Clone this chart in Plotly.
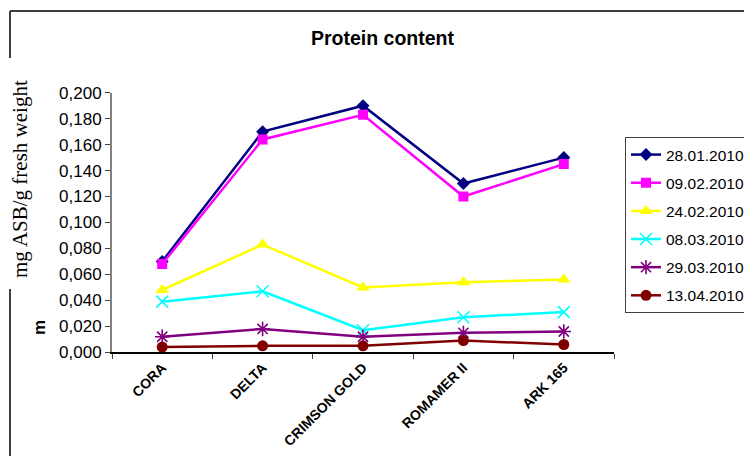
import plotly.graph_objects as go

categories = ["CORA", "DELTA", "CRIMSON GOLD", "ROMAMER II", "ARK 165"]
dates = ["28.01.2010", "09.02.2010", "24.02.2010", "08.03.2010", "29.03.2010", "13.04.2010"]
s_28_01 = [0.070, 0.170, 0.190, 0.130, 0.150]
s_09_02 = [0.068, 0.164, 0.183, 0.120, 0.145]
s_24_02 = [0.048, 0.083, 0.050, 0.054, 0.056]
s_08_03 = [0.039, 0.047, 0.017, 0.027, 0.031]
s_29_03 = [0.012, 0.018, 0.012, 0.015, 0.016]
s_13_04 = [0.004, 0.005, 0.005, 0.009, 0.006]
y_ticks = [0.000, 0.020, 0.040, 0.060, 0.080, 0.100, 0.120, 0.140, 0.160, 0.180, 0.200]

series = [s_28_01, s_09_02, s_24_02, s_08_03, s_29_03, s_13_04]
colors = ["#000080", "#FF00FF", "#FFFF00", "#00FFFF", "#800080", "#800000"]
symbols = ["diamond", "square", "triangle-up", "x-thin-open", "asterisk-open", "circle"]
sizes = [10, 10, 12, 12, 12, 11]

# figure is a little wider than the window; the frame runs off the right edge as in the original
W, H = 770, 456
fig = go.Figure()
for name, vals, c, s, sz in zip(dates, series, colors, symbols, sizes):
    marker = dict(symbol=s, size=sz, color=c)
    if s.endswith("open"):
        marker["line"] = dict(color=c, width=1.6)
    fig.add_trace(go.Scatter(x=categories, y=vals, name=name, mode="lines+markers",
                             legendgroup=name,
                             line=dict(color=c, width=2.5), marker=marker))

def px(x):
    return x / W

def py(y):
    return 1 - y / H

fig.update_layout(
    template="none",
    width=W, height=H,
    margin=dict(l=0, r=0, t=0, b=0, pad=0),
    paper_bgcolor="white", plot_bgcolor="white",
    separators=",.",
    font=dict(family="Liberation Sans, Arial, sans-serif", color="black"),
    showlegend=True,
    legend=dict(x=px(625), y=py(137), xanchor="left", yanchor="top",
                bordercolor="#404040", borderwidth=1, bgcolor="white",
                traceorder="grouped", tracegroupgap=5,
                font=dict(size=15.5, color="black")),
    xaxis=dict(domain=[px(112), px(614)], type="category", range=[-0.5, 4.5],
               automargin=False,
               showline=True, linecolor="black", linewidth=1.5,
               ticks="outside", tickson="boundaries", ticklen=5, tickcolor="#404040", tickwidth=1,
               tickangle=-45,
               tickfont=dict(size=14, family="Liberation Sans, Arial", color="black", weight="bold"),
               showgrid=False, zeroline=False),
    yaxis=dict(domain=[py(352.3), py(92.7)], range=[0, 0.2],
               automargin=False,
               tickvals=y_ticks, tickformat=".3f",
               showline=True, linecolor="#808080", linewidth=2,
               ticks="outside", ticklen=5, tickcolor="#404040", tickwidth=1,
               tickfont=dict(size=17, color="black"),
               showgrid=False, zeroline=False),
)

# title
fig.add_annotation(text="<b>Protein content</b>", x=px(383), y=py(38), xref="paper", yref="paper",
                   xanchor="center", yanchor="middle", showarrow=False,
                   font=dict(size=19.5, color="black"))

# outer frame segments
fig.add_shape(type="line", xref="paper", yref="paper", x0=px(10), x1=1, y0=py(11), y1=py(11),
              line=dict(color="#404040", width=2))
fig.add_shape(type="line", xref="paper", yref="paper", x0=px(10), x1=px(10), y0=py(11), y1=py(58),
              line=dict(color="#404040", width=2))
fig.add_shape(type="line", xref="paper", yref="paper", x0=px(10), x1=px(10), y0=py(289), y1=0,
              line=dict(color="#404040", width=2))

# visible fragment of the original (covered) axis title
fig.add_annotation(text="<b>m</b>", x=px(39), y=py(300), xref="paper", yref="paper",
                   xanchor="center", yanchor="middle", showarrow=False, textangle=-90,
                   yshift=-28, font=dict(size=17, color="black"))
# overlaid serif axis label
fig.add_annotation(text="mg ASB/g fresh weight", x=px(20), y=py(179), xref="paper", yref="paper",
                   xanchor="center", yanchor="middle", showarrow=False, textangle=-90,
                   font=dict(size=21, family="Liberation Serif, Times New Roman, serif", color="black"))

fig.write_html("out.html", config={"displayModeBar": False},
               post_script="document.body.style.margin='0';document.body.style.overflow='hidden';")
